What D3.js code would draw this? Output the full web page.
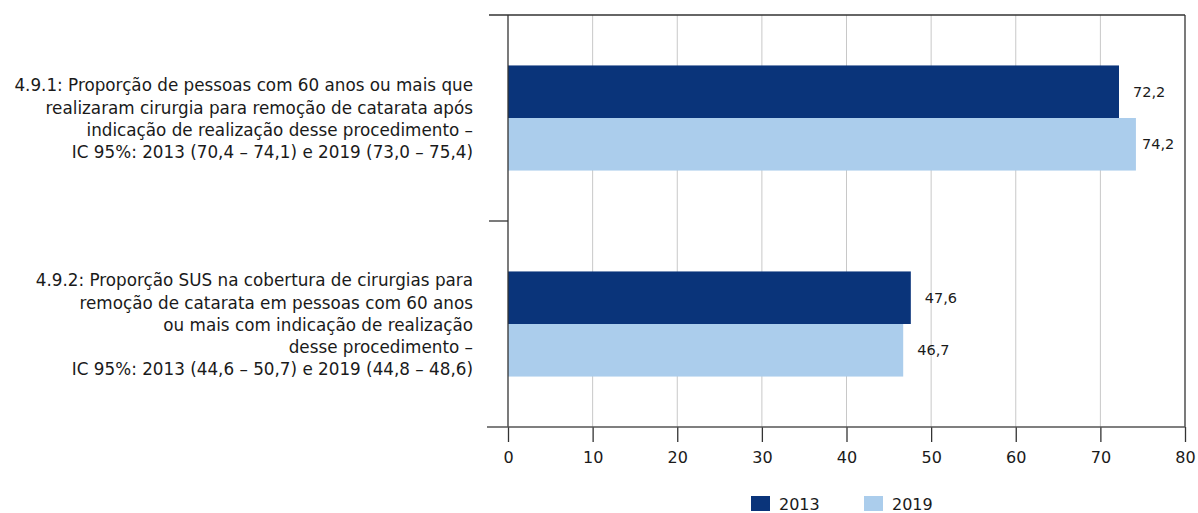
<!DOCTYPE html>
<html>
<head>
<meta charset="utf-8">
<script src="https://cdn.jsdelivr.net/npm/d3@7"></script>
<style>
  body { margin: 0; background: #fff; }
  text { font-family: "DejaVu Sans", "Noto Sans", sans-serif; fill: #1a1a1a; }
</style>
</head>
<body>
<svg id="chart"></svg>
<script>
const categories = [
  ["4.9.1: Proporção de pessoas com 60 anos ou mais que",
   "realizaram cirurgia para remoção de catarata após",
   "indicação de realização desse procedimento –",
   "IC 95%: 2013 (70,4 – 74,1) e 2019 (73,0 – 75,4)"],
  ["4.9.2: Proporção SUS na cobertura de cirurgias para",
   "remoção de catarata em pessoas com 60 anos",
   "ou mais com indicação de realização",
   "desse procedimento –",
   "IC 95%: 2013 (44,6 – 50,7) e 2019 (44,8 – 48,6)"]
]
const series = ["2013", "2019"]
const values2013 = [72.2, 47.6]
const values2019 = [74.2, 46.7]
const xTicks = [0, 10, 20, 30, 40, 50, 60, 70, 80]
const colors = ["#0a347a", "#abcdec"]

const width = 1198, height = 513
const margin = {top: 15, right: 13, bottom: 86, left: 508}

const svg = d3.select("#chart")
  .attr("width", width)
  .attr("height", height)

const x = d3.scaleLinear()
  .domain([0, 80])
  .range([margin.left, width - margin.right])

const y = d3.scaleBand()
  .domain(d3.range(categories.length))
  .range([margin.top, height - margin.bottom])

const inner = d3.scaleBand()
  .domain(series)
  .range([0, y.bandwidth()])
  .paddingOuter(0.96)

// grid
svg.append("g")
  .selectAll("line")
  .data(xTicks.slice(1, -1))
  .enter().append("line")
  .attr("x1", d => x(d)).attr("x2", d => x(d))
  .attr("y1", margin.top).attr("y2", height - margin.bottom)
  .attr("stroke", "#c8c8c8")
  .attr("stroke-width", 1)

// bars
const rows = categories.map((c, i) => ({i, vals: [values2013[i], values2019[i]]}))

const groups = svg.append("g")
  .selectAll("g")
  .data(rows)
  .enter().append("g")
  .attr("transform", d => `translate(0,${y(d.i)})`)

groups.selectAll("rect")
  .data(d => d.vals.map((v, k) => ({v, s: series[k], k})))
  .enter().append("rect")
  .attr("x", x(0))
  .attr("y", d => inner(d.s))
  .attr("width", d => x(d.v) - x(0))
  .attr("height", inner.bandwidth())
  .attr("fill", d => colors[d.k])

groups.selectAll("text.val")
  .data(d => d.vals.map((v, k) => ({v, s: series[k], k})))
  .enter().append("text")
  .attr("class", "val")
  .attr("x", d => Math.min(x(d.v) + 14, 1142))
  .attr("y", d => inner(d.s) + inner.bandwidth() / 2)
  .attr("dy", "0.35em")
  .attr("font-size", 14.5)
  .text(d => d3.format(".1f")(d.v).replace(".", ","))

// frame: top line, right line, left axis
svg.append("line")
  .attr("x1", 489).attr("x2", x(80))
  .attr("y1", margin.top).attr("y2", margin.top)
  .attr("stroke", "#333").attr("stroke-width", 1.3)

svg.append("line")
  .attr("x1", x(80)).attr("x2", x(80))
  .attr("y1", margin.top).attr("y2", height - margin.bottom)
  .attr("stroke", "#333").attr("stroke-width", 1.3)

svg.append("line")
  .attr("x1", x(0)).attr("x2", x(0))
  .attr("y1", margin.top).attr("y2", height - margin.bottom)
  .attr("stroke", "#333").attr("stroke-width", 1.3)

// separator tick between categories
svg.append("line")
  .attr("x1", 489).attr("x2", x(0))
  .attr("y1", y(1)).attr("y2", y(1))
  .attr("stroke", "#333").attr("stroke-width", 1.3)

// x axis
const xAxis = svg.append("g")
  .attr("transform", `translate(0,${height - margin.bottom})`)
  .call(d3.axisBottom(x).tickValues(xTicks).tickSize(15).tickSizeOuter(0).tickPadding(10))

xAxis.select(".domain").remove()
xAxis.append("line")
  .attr("x1", 487).attr("x2", x(80))
  .attr("stroke", "#555").attr("stroke-width", 1.5)
xAxis.selectAll(".tick line").attr("stroke", "#333").attr("stroke-width", 1.3)
xAxis.selectAll(".tick text")
  .attr("font-size", 16)
  .attr("font-family", "\"DejaVu Sans\", sans-serif")
  .attr("fill", "#1a1a1a")

// category labels
const lineH = 22.3
svg.append("g")
  .selectAll("text")
  .data(categories)
  .enter().append("text")
  .attr("text-anchor", "end")
  .attr("font-size", 16.8)
  .each(function (lines, i) {
    const cy = y(i) + y.bandwidth() / 2
    const start = cy - (lines.length - 1) * lineH / 2
    d3.select(this).selectAll("tspan")
      .data(lines)
      .enter().append("tspan")
      .attr("x", 473)
      .attr("y", (d, j) => start + j * lineH + 1)
      .attr("dy", "0.35em")
      .text(d => d)
  })

// legend
const legendX = [751, 864]
const legend = svg.append("g")
  .selectAll("g")
  .data(series)
  .enter().append("g")
  .attr("transform", (d, k) => `translate(${legendX[k]},496)`)

legend.append("rect")
  .attr("width", 19).attr("height", 15)
  .attr("fill", (d, k) => colors[k])

legend.append("text")
  .attr("x", 28)
  .attr("y", 8)
  .attr("dy", "0.35em")
  .attr("font-size", 16)
  .text(d => d)
</script>
</body>
</html>
